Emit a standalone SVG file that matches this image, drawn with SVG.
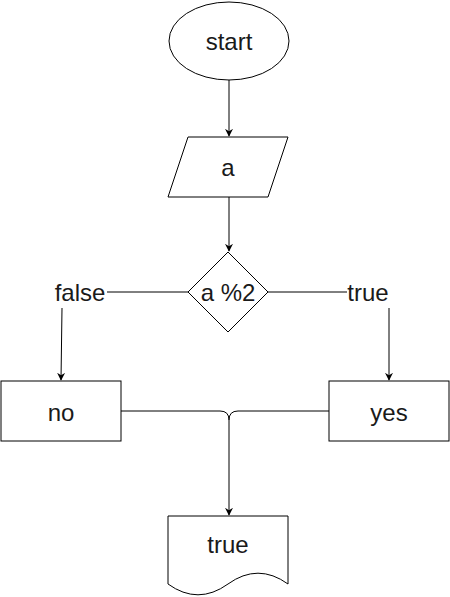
<svg xmlns="http://www.w3.org/2000/svg" width="450" height="597" viewBox="0 0 450 597">
<style>
.s{fill:#fff;stroke:#000;stroke-width:1}
.t{font-family:"Liberation Sans",Arial,sans-serif;font-size:24px;fill:#1a1a1a;text-anchor:middle}
.c{fill:none;stroke:#000;stroke-width:1}
</style>
<defs>
<marker id="ah" viewBox="0 0 10 10" refX="9" refY="5" markerWidth="8" markerHeight="8" markerUnits="userSpaceOnUse" orient="auto">
<path d="M0,0 L10,5 L0,10 L3,5 Z" fill="#000"/>
</marker>
</defs>
<g id="connectors">
<path class="c" d="M229,80 V136" marker-end="url(#ah)"/>
<path class="c" d="M229,197 V251" marker-end="url(#ah)"/>
<path class="c" d="M188,292 H107"/>
<path class="c" d="M268,292 H347"/>
<path class="c" d="M62,308 L61,380" marker-end="url(#ah)"/>
<path class="c" d="M389,308 V380" marker-end="url(#ah)"/>
<path class="c" d="M121,411 H220 Q229,411 229,420 V515" marker-end="url(#ah)"/>
<path class="c" d="M329,411 H238 Q229,411 229,420"/>
</g>
<g id="start">
<ellipse class="s" cx="229" cy="41" rx="60" ry="39"/>
<text class="t" x="229" y="50">start</text>
</g>
<g id="input-a">
<path class="s" d="M188,137 H288 L268,197 H168 Z"/>
<text class="t" x="228" y="176">a</text>
</g>
<g id="decision">
<path class="s" d="M228,252 L268,292 L228,332 L188,292 Z"/>
<text class="t" x="228" y="301">a %2</text>
</g>
<g id="label-false">
<text class="t" x="80" y="301">false</text>
</g>
<g id="label-true">
<text class="t" x="368" y="301">true</text>
</g>
<g id="no">
<rect class="s" x="1" y="381" width="120" height="60"/>
<text class="t" x="61" y="421">no</text>
</g>
<g id="yes">
<rect class="s" x="329" y="381" width="120" height="60"/>
<text class="t" x="389" y="421">yes</text>
</g>
<g id="document">
<path class="s" d="M168,516 H288 V584 Q258,562.4 228,584 Q198,605.6 168,584 Z"/>
<text class="t" x="228" y="553">true</text>
</g>
</svg>
